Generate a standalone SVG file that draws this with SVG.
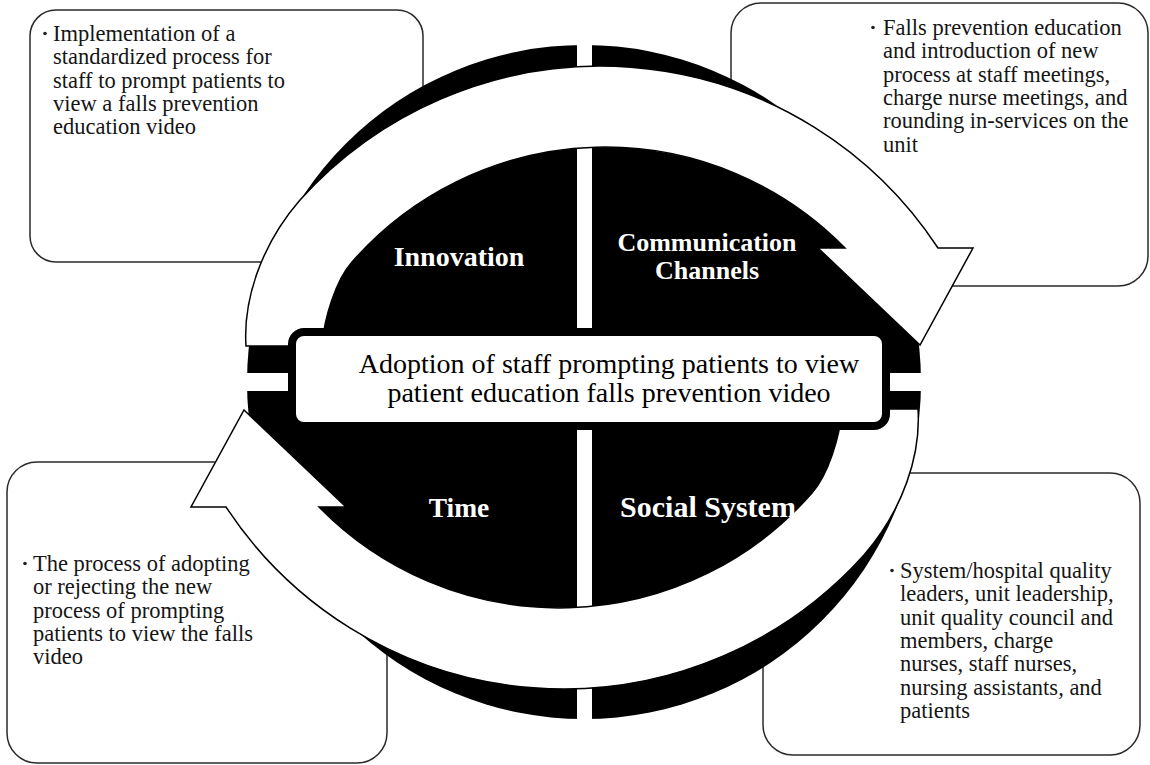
<svg xmlns="http://www.w3.org/2000/svg" xmlns:xlink="http://www.w3.org/1999/xlink" width="1150" height="765" viewBox="0 0 1150 765">
  <style>
    .box { fill: #fff; stroke: #2a2a2a; stroke-width: 1.5; }
    .bt { font-family: "Liberation Serif", "Times New Roman", serif; font-size: 22.5px; fill: #151515; }
    .dot { fill: #222; }
    .quad { font-family: "Liberation Serif", "Times New Roman", serif; font-weight: bold; font-size: 27px; fill: #fff; text-anchor: middle; }
    .ctr { font-family: "Liberation Serif", "Times New Roman", serif; font-size: 28px; fill: #000; text-anchor: middle; }
    .arrow { fill: #fff; stroke: #000; stroke-width: 1.5; stroke-linejoin: miter; }
    .gap { fill: #fff; }
  </style>
  <defs>
    <!-- curved cycle arrow, clockwise from tail (left) to head (right) -->
    <path id="cycle-arrow" d="M 246 346 C 243 300 261 245 300 200 A 404 404 0 0 1 938 248 L 973 248 L 920 345 L 818 248 L 845 248 A 336 336 0 0 0 352 262 C 336 280 324 318 322 346 Z"/>
  </defs>

  <!-- description boxes -->
  <g id="box-innovation">
    <rect class="box" x="30" y="10" width="393" height="252" rx="26"/>
    <circle class="dot" cx="45" cy="33.5" r="1.8"/>
    <text class="bt" x="53" y="41">Implementation of a</text>
    <text class="bt" x="53" y="64.3">standardized process for</text>
    <text class="bt" x="53" y="87.6">staff to prompt patients to</text>
    <text class="bt" x="53" y="110.9">view a falls prevention</text>
    <text class="bt" x="53" y="134.2">education video</text>
  </g>
  <g id="box-communication">
    <rect class="box" x="731" y="3" width="417" height="283" rx="30"/>
    <circle class="dot" cx="873" cy="27.5" r="1.8"/>
    <text class="bt" x="883" y="35">Falls prevention education</text>
    <text class="bt" x="883" y="58.3">and introduction of new</text>
    <text class="bt" x="883" y="81.6">process at staff meetings,</text>
    <text class="bt" x="883" y="104.9">charge nurse meetings, and</text>
    <text class="bt" x="883" y="128.2">rounding in-services on the</text>
    <text class="bt" x="883" y="151.5">unit</text>
  </g>
  <g id="box-time">
    <rect class="box" x="7" y="462" width="380" height="301" rx="30"/>
    <circle class="dot" cx="25" cy="563.5" r="1.8"/>
    <text class="bt" x="33" y="571">The process of adopting</text>
    <text class="bt" x="33" y="594.3">or rejecting the new</text>
    <text class="bt" x="33" y="617.6">process of prompting</text>
    <text class="bt" x="33" y="640.9">patients to view the falls</text>
    <text class="bt" x="33" y="664.2">video</text>
  </g>
  <g id="box-social-system">
    <rect class="box" x="763" y="473" width="377" height="282" rx="30"/>
    <circle class="dot" cx="892" cy="570.5" r="1.8"/>
    <text class="bt" x="900" y="578">System/hospital quality</text>
    <text class="bt" x="900" y="601.3">leaders, unit leadership,</text>
    <text class="bt" x="900" y="624.6">unit quality council and</text>
    <text class="bt" x="900" y="647.9">members, charge</text>
    <text class="bt" x="900" y="671.2">nurses, staff nurses,</text>
    <text class="bt" x="900" y="694.5">nursing assistants, and</text>
    <text class="bt" x="900" y="717.8">patients</text>
  </g>

  <!-- black wheel split into four quadrants -->
  <g id="wheel">
    <circle cx="584" cy="382" r="337" fill="#000"/>
    <rect class="gap" x="577" y="30" width="15" height="710"/>
    <rect class="gap" x="230" y="373" width="710" height="18"/>
  </g>

  <!-- cycle arrows -->
  <g id="connectors">
    <use xlink:href="#cycle-arrow" class="arrow"/>
    <use xlink:href="#cycle-arrow" class="arrow" transform="rotate(180 582 377.5)"/>
  </g>

  <!-- central outcome -->
  <g id="adoption">
    <rect x="292" y="332" width="594" height="94" rx="12" fill="#fff" stroke="#000" stroke-width="8"/>
    <text class="ctr" x="609" y="373">Adoption of staff prompting patients to view</text>
    <text class="ctr" x="609" y="402">patient education falls prevention video</text>
  </g>

  <g id="innovation"><text class="quad" x="459" y="266" style="font-size:28px">Innovation</text></g>
  <g id="communication-channels">
    <text class="quad" x="707" y="251" style="font-size:26px">Communication</text>
    <text class="quad" x="707" y="279" style="font-size:26px">Channels</text>
  </g>
  <g id="time"><text class="quad" x="459" y="517" style="font-size:27.5px">Time</text></g>
  <g id="social-system"><text class="quad" x="708" y="517" style="font-size:30px">Social System</text></g>
</svg>
